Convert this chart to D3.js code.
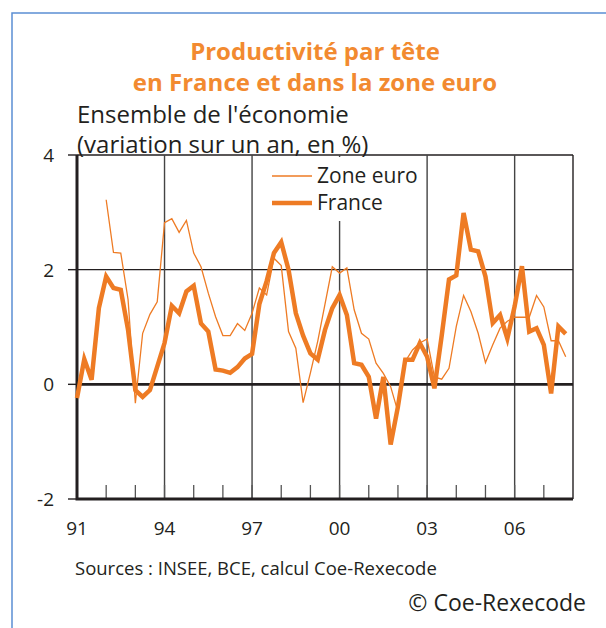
<!DOCTYPE html>
<html>
<head>
<meta charset="utf-8">
<script src="https://cdn.jsdelivr.net/npm/d3@7"></script>
<style>
  body { margin: 0; background: #fff; }
  svg { display: block; }
</style>
</head>
<body>
<svg id="chart" width="606" height="628"></svg>
<script>
// quarterly series, first point at the start of the year given
var franceStart = 1991,
    euroStart = 1992;

var france = [
    -0.24, 0.44, 0.08, 1.33,
    1.88, 1.68, 1.65, 0.95,
    -0.10, -0.22, -0.10, 0.31,
    0.72, 1.37, 1.24, 1.62,
    1.72, 1.06, 0.92, 0.26,
    0.24, 0.20, 0.30, 0.45,
    0.53, 1.40, 1.80, 2.29,
    2.48, 2.00, 1.24, 0.85,
    0.54, 0.43, 0.95, 1.33,
    1.56, 1.21, 0.37, 0.34,
    0.13, -0.60, 0.13, -1.05,
    -0.39, 0.43, 0.43, 0.72,
    0.48, -0.07, 0.85, 1.83,
    1.90, 2.99, 2.35, 2.32,
    1.88, 1.07, 1.21, 0.80,
    1.36, 2.06, 0.92, 0.98,
    0.69, -0.16, 1.01, 0.88
];

var zoneEuro = [
    3.22, 2.30, 2.29, 1.48,
    -0.33, 0.89, 1.22, 1.44,
    2.82, 2.89, 2.65, 2.86,
    2.29, 2.05, 1.59, 1.18,
    0.85, 0.85, 1.06, 0.94,
    1.24, 1.68, 1.56, 2.20,
    2.07, 0.92, 0.63, -0.32,
    0.20, 0.75, 1.40, 2.05,
    1.94, 2.03, 1.30, 0.89,
    0.79, 0.37, 0.19, -0.04,
    -0.48, 0.40, 0.60, 0.72,
    0.79, 0.13, 0.09, 0.28,
    1.01, 1.55, 1.27, 0.89,
    0.38, 0.69, 0.98, 1.10,
    1.17, 1.17, 1.17, 1.55,
    1.35, 0.76, 0.76, 0.48
];

var yTicks = [-2, 0, 2, 4],
    yearLabels = ["91", "94", "97", "00", "03", "06"],
    labelYears = [1991, 1994, 1997, 2000, 2003, 2006],
    minorYears = d3.range(1992, 2008);

var titleLines = ["Productivité par tête", "en France et dans la zone euro"],
    subtitleLines = ["Ensemble de l'économie", "(variation sur un an, en %)"],
    legendLabels = ["Zone euro", "France"];

var orange = "#ee7b24",
    ink = "#231f20",
    font = "'Open Sans', Lato, sans-serif";

var svg = d3.select("#chart");

var x = d3.scaleLinear().domain([1991, 2008]).range([77, 573]),
    y = d3.scaleLinear().domain([-2, 4]).range([499, 155]);

function toPoints(values, start) {
    return values.map(function(v, i) { return {t: start + i / 4, v: v}; });
}

// frame (only left and top edges visible)
svg.append("path")
    .attr("d", "M12,628V13H606")
    .attr("fill", "none")
    .attr("stroke", "#5b8fd3")
    .attr("stroke-width", 1.5);

// titles
svg.selectAll(".title")
    .data(titleLines)
    .enter().append("text")
    .attr("class", "title")
    .attr("x", 315)
    .attr("y", function(d, i) { return 60 + i * 31; })
    .attr("text-anchor", "middle")
    .style("font-family", font)
    .style("font-weight", "bold")
    .style("font-size", "24px")
    .style("fill", "#f28a30")
    .text(function(d) { return d; });

svg.selectAll(".subtitle")
    .data(subtitleLines)
    .enter().append("text")
    .attr("class", "subtitle")
    .attr("x", 77)
    .attr("y", function(d, i) { return 123 + i * 30; })
    .style("font-family", font)
    .style("font-size", "24px")
    .style("fill", ink)
    .text(function(d) { return d; });

// gridlines
var grid = svg.append("g").attr("class", "grid");

grid.selectAll(".hgrid")
    .data([2, 4])
    .enter().append("line")
    .attr("x1", x.range()[0]).attr("x2", x.range()[1])
    .attr("y1", function(d) { return y(d); })
    .attr("y2", function(d) { return y(d); })
    .attr("stroke", ink)
    .attr("stroke-width", 1.4);

grid.selectAll(".vgrid")
    .data(labelYears.slice(1).concat([2008]))
    .enter().append("line")
    .attr("x1", function(d) { return x(d); })
    .attr("x2", function(d) { return x(d); })
    .attr("y1", y(4)).attr("y2", y(-2))
    .attr("stroke", function(d) { return d === 2008 ? ink : "#444"; })
    .attr("stroke-width", 1.4);

// minor year ticks on the bottom axis
grid.selectAll(".minor")
    .data(minorYears)
    .enter().append("line")
    .attr("x1", function(d) { return x(d); })
    .attr("x2", function(d) { return x(d); })
    .attr("y1", y(-2)).attr("y2", y(-2) - 14)
    .attr("stroke", "#555")
    .attr("stroke-width", 1.3);

// legend background hides the gridlines behind it
svg.append("rect")
    .attr("x", 266).attr("y", 157)
    .attr("width", 160).attr("height", 64)
    .attr("fill", "#fff");

// y axis tick marks and labels
svg.selectAll(".ytick")
    .data(yTicks)
    .enter().append("line")
    .attr("x1", 68).attr("x2", 77)
    .attr("y1", function(d) { return y(d); })
    .attr("y2", function(d) { return y(d); })
    .attr("stroke", ink)
    .attr("stroke-width", 1.4);

svg.selectAll(".ylabel")
    .data(yTicks)
    .enter().append("text")
    .attr("x", 54)
    .attr("y", function(d) { return y(d) + 7; })
    .attr("text-anchor", "end")
    .style("font-family", font)
    .style("font-size", "19px")
    .style("fill", ink)
    .text(function(d) { return d; });

svg.selectAll(".xlabel")
    .data(labelYears)
    .enter().append("text")
    .attr("x", function(d) { return x(d); })
    .attr("y", 535)
    .attr("text-anchor", "middle")
    .style("font-family", font)
    .style("font-size", "19px")
    .style("fill", ink)
    .text(function(d, i) { return yearLabels[i]; });

// axes and zero line
svg.append("line")
    .attr("x1", x.range()[0]).attr("x2", x.range()[1])
    .attr("y1", y(0)).attr("y2", y(0))
    .attr("stroke", ink).attr("stroke-width", 2.8);

svg.append("path")
    .attr("d", "M" + x(1991) + "," + y(4) + "V" + y(-2) + "H" + x(2008))
    .attr("fill", "none")
    .attr("stroke", ink)
    .attr("stroke-width", 3);

// series
var line = d3.line()
    .x(function(d) { return x(d.t); })
    .y(function(d) { return y(d.v); });

svg.append("path")
    .datum(toPoints(zoneEuro, euroStart))
    .attr("d", line)
    .attr("fill", "none")
    .attr("stroke", orange)
    .attr("stroke-width", 1.3)
    .attr("stroke-linejoin", "miter");

svg.append("path")
    .datum(toPoints(france, franceStart))
    .attr("d", line)
    .attr("fill", "none")
    .attr("stroke", orange)
    .attr("stroke-width", 4.5)
    .attr("stroke-linejoin", "miter");

// legend
var legend = svg.selectAll(".legend")
    .data(legendLabels)
    .enter().append("g")
    .attr("class", "legend")
    .attr("transform", function(d, i) { return "translate(272," + (176 + i * 27) + ")"; });

legend.append("line")
    .attr("x1", 0).attr("x2", 40)
    .attr("stroke", orange)
    .attr("stroke-width", function(d, i) { return i ? 4.5 : 1.3; });

legend.append("text")
    .attr("x", 45)
    .attr("y", 7)
    .style("font-family", font)
    .style("font-size", "21px")
    .style("fill", ink)
    .text(function(d) { return d; });

// footer
svg.append("text")
    .attr("x", 75).attr("y", 575)
    .style("font-family", font)
    .style("font-size", "18.5px")
    .style("fill", ink)
    .text("Sources : INSEE, BCE, calcul Coe-Rexecode");

svg.append("text")
    .attr("x", 586).attr("y", 611)
    .attr("text-anchor", "end")
    .style("font-family", font)
    .style("font-size", "23px")
    .style("fill", ink)
    .text("© Coe-Rexecode");
</script>
</body>
</html>
